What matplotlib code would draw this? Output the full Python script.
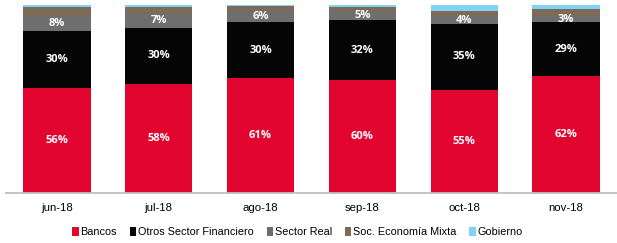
import matplotlib
matplotlib.use("Agg")
import matplotlib.pyplot as plt
import numpy as np

# share of holdings by sector, in percent
months = ["jun-18", "jul-18", "ago-18", "sep-18", "oct-18", "nov-18"]
bancos = [56, 58, 61, 60, 55, 62]
otros_financiero = [30, 30, 30, 32, 35, 29]
sector_real = [8, 7, 6, 5, 4, 3]
soc_mixta = [5, 4, 2.5, 2, 3, 4]
gobierno = [1, 1, 0.5, 1, 3, 2]

series = [
    ("Bancos", bancos, "#e1052f", True),
    ("Otros Sector Financiero", otros_financiero, "#050505", True),
    ("Sector Real", sector_real, "#6e6e6e", True),
    ("Soc. Economía Mixta", soc_mixta, "#7d6b58", False),
    ("Gobierno", gobierno, "#7fd3f4", False),
]

plt.rcParams["font.family"] = ["Liberation Sans", "DejaVu Sans"]

fig = plt.figure(figsize=(6.17, 2.43), dpi=100)
ax = fig.add_axes([6 / 617, 50 / 243, 611 / 617, 188 / 243])

x = np.arange(len(months))
bottom = np.zeros(len(months))
handles = []
for name, vals, color, labelled in series:
    vals = np.array(vals, dtype=float)
    bars = ax.bar(x, vals, 0.66, bottom=bottom, color=color, label=name, linewidth=0)
    handles.append(bars)
    if labelled:
        for xi, b, v in zip(x, bottom, vals):
            ax.text(xi, b + v / 2, f"{v:.0f}%", ha="center", va="center",
                    color="white", fontsize=8, fontweight="bold", family="Open Sans")
    bottom += vals

ax.set_xlim(-0.5, 5.5)
ax.set_ylim(0, 100)
ax.set_yticks([])
ax.set_xticks(x)
ax.set_xticklabels(months, fontsize=8.2)
ax.tick_params(axis="x", length=0, pad=7)
for side in ["top", "right", "left"]:
    ax.spines[side].set_visible(False)
ax.spines["bottom"].set_color("#bfbfbf")
ax.spines["bottom"].set_linewidth(1.3)

fig.legend(handles=handles, loc="center left", bbox_to_anchor=(72 / 617, 1 - 232 / 243),
           ncol=5, frameon=False, fontsize=7.8, handlelength=0.6, handleheight=0.9,
           handletextpad=0.15, columnspacing=1.2, borderaxespad=0, borderpad=0)

fig.savefig("out.png", dpi=100)
